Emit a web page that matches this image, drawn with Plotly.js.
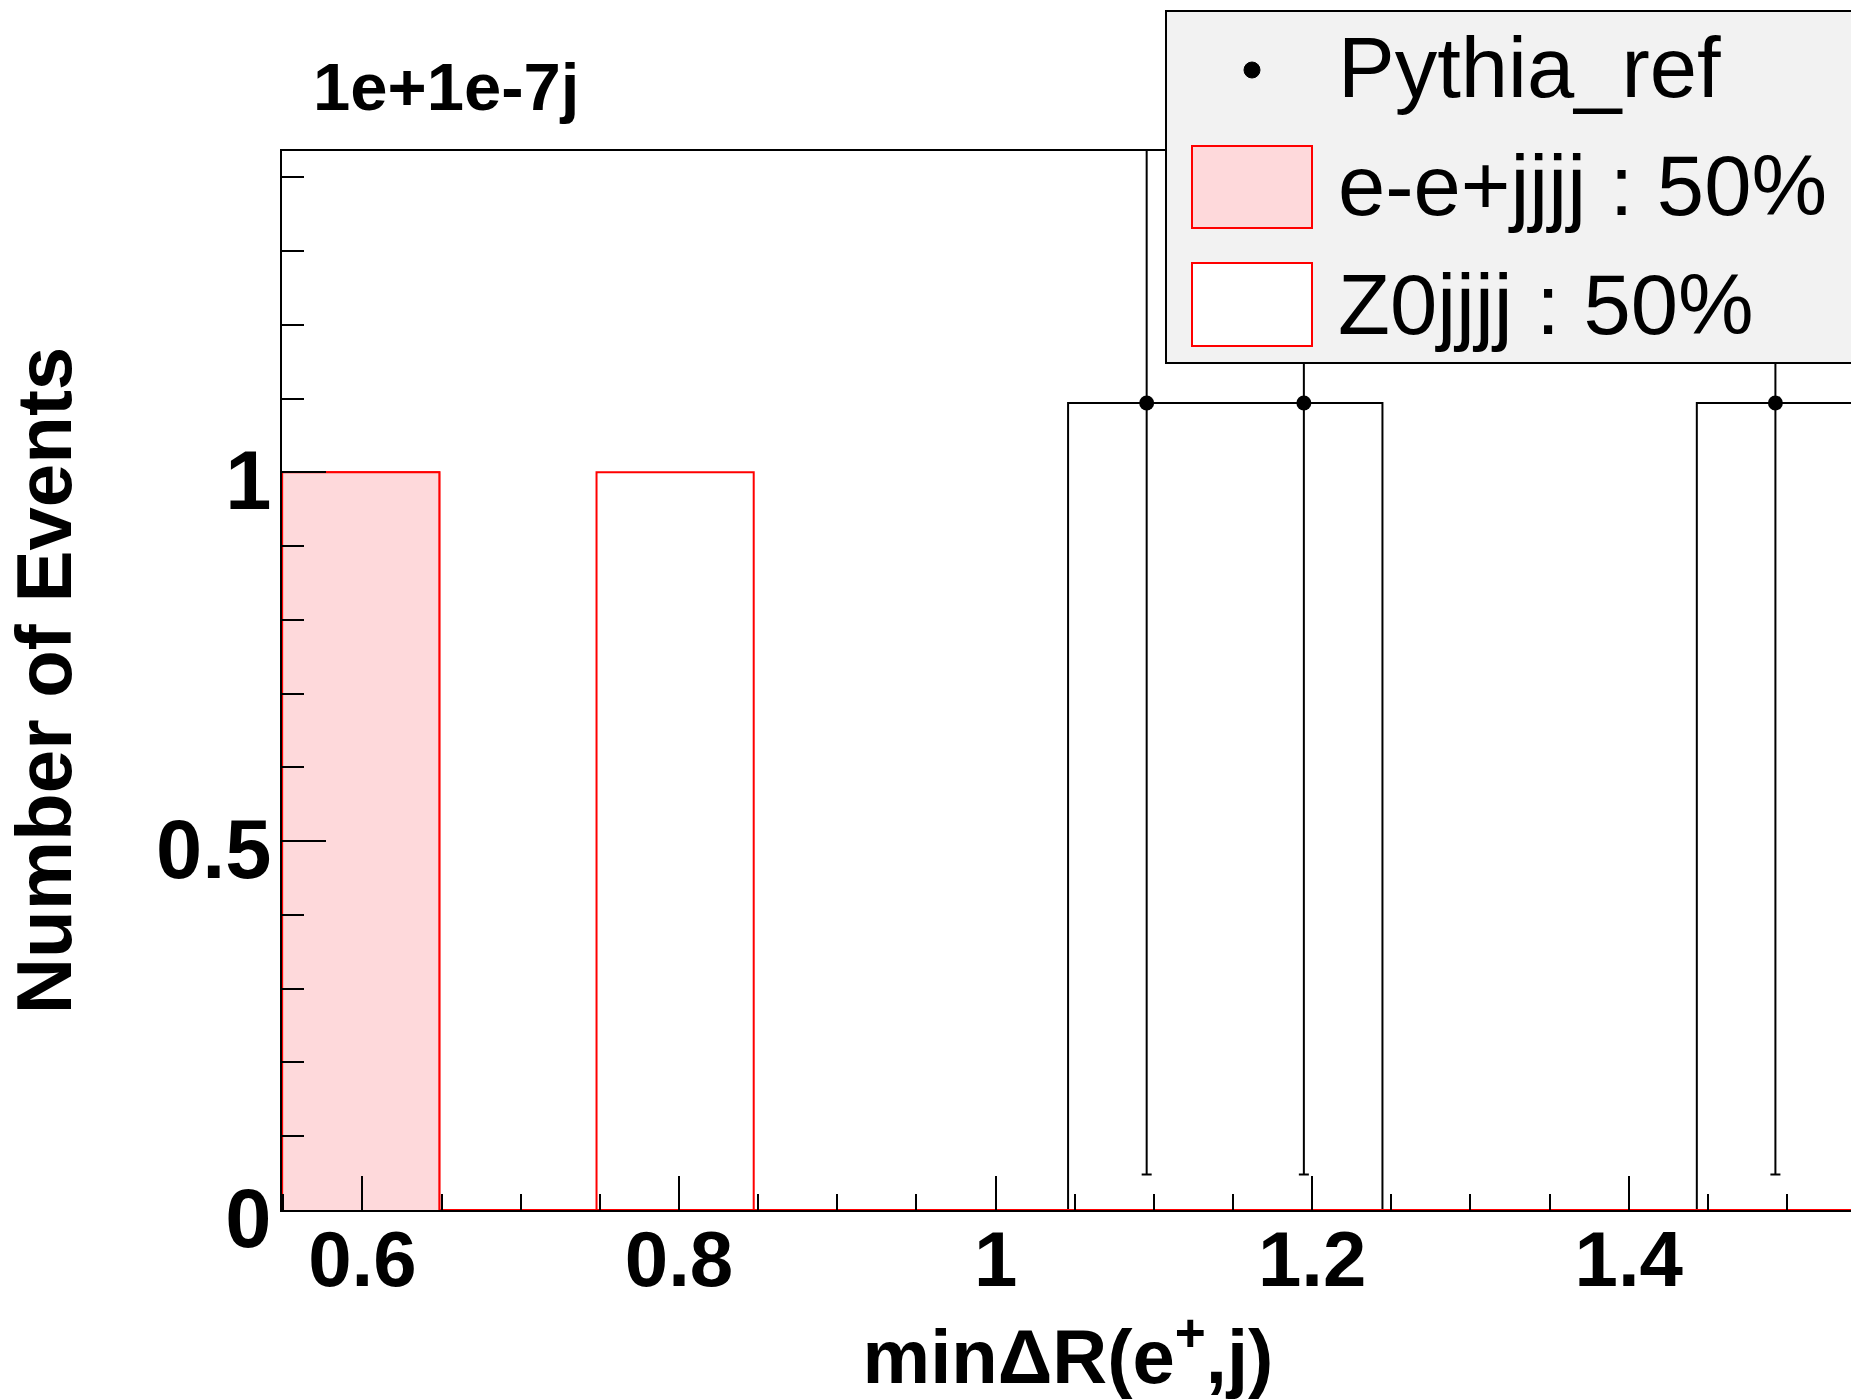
<!DOCTYPE html>
<html>
<head>
<meta charset="utf-8">
<script src="https://cdn.plot.ly/plotly-3.0.1.min.js"></script>
<style>
html, body { margin: 0; padding: 0; overflow: hidden; background: #ffffff; }
#chart { width: 1900px; height: 1400px; }
</style>
</head>
<body>
<div id="chart"></div>
<script>
// ---------------- data ----------------
const binEdges = [0.5493, 0.6486, 0.7479, 0.8472, 0.9465, 1.0458, 1.1451, 1.2444, 1.3437, 1.4430, 1.5423];
const eeValues = [1, 0, 0, 0, 0, 0, 0, 0, 0, 0];          // e-e+jjjj
const z0Values = [0, 0, 1, 0, 0, 0, 0, 0, 0, 0];          // Z0jjjj
const pythiaValues = [0, 0, 0, 0, 0, 1.094, 1.094, 0, 0, 1.094];
const pythiaErrors = [0, 0, 0, 0, 0, 1.046, 1.046, 0, 0, 1.046];
const seriesNames = ['Pythia_ref', 'e-e+jjjj : 50%', 'Z0jjjj : 50%'];
const xTitle = 'min\u0394R(e<sup>+</sup>,j)';
const yTitle = 'Number of Events';
const chartTitle = '1e+1e-7j';
const xRange = [0.5492, 1.5423];
const yRange = [0, 1.4355];

// ---------------- helpers ----------------
function stepPath(edges, vals) {
  const xs = [edges[0]], ys = [0];
  for (let i = 0; i < vals.length; i++) {
    xs.push(edges[i], edges[i + 1]);
    ys.push(vals[i], vals[i]);
  }
  xs.push(edges[edges.length - 1]);
  ys.push(0);
  return {x: xs, y: ys};
}
const centers = binEdges.slice(0, -1).map((e, i) => (e + binEdges[i + 1]) / 2);
const stackTop = eeValues.map((v, i) => v + z0Values[i]);

const pinkFill = '#fed9db';
const FONT = 'Liberation Sans, Arial, Helvetica, sans-serif';

const sTop = stepPath(binEdges, stackTop);
const sEE = stepPath(binEdges, eeValues);
const sPy = stepPath(binEdges, pythiaValues);

const ptX = [], ptY = [], ptE = [];
pythiaValues.forEach((v, i) => { if (v > 0) { ptX.push(centers[i]); ptY.push(v); ptE.push(pythiaErrors[i]); } });

const traces = [
  {x: sPy.x, y: sPy.y, type: 'scatter', mode: 'lines', name: seriesNames[0] + ' hist',
   line: {color: '#000000', width: 2}, hoverinfo: 'skip'},
  {x: sTop.x, y: sTop.y, type: 'scatter', mode: 'lines', name: seriesNames[2],
   line: {color: '#ff0000', width: 2}, fill: 'tozeroy', fillcolor: '#ffffff', hoverinfo: 'skip'},
  {x: sEE.x, y: sEE.y, type: 'scatter', mode: 'lines', name: seriesNames[1],
   line: {color: '#ff0000', width: 2}, fill: 'tozeroy', fillcolor: pinkFill, hoverinfo: 'skip'},
  {x: ptX, y: ptY, type: 'scatter', mode: 'markers', name: seriesNames[0],
   marker: {color: '#000000', size: 15},
   error_y: {type: 'data', array: ptE, symmetric: true, color: '#000000', thickness: 2, width: 5}}
];

// ---------------- layout ----------------
const W = 1900, H = 1400;
const mL = 282, mR = 46, mT = 151, mB = 190;
const pw = W - mL - mR, ph = H - mT - mB;
const px2x = p => (p - mL) / pw;
const py2y = p => (H - mB - p) / ph;

const legendShapes = [
  {type: 'rect', xref: 'paper', yref: 'paper', x0: px2x(1166), x1: px2x(1915), y0: py2y(363), y1: py2y(11),
   fillcolor: '#f2f2f2', line: {color: '#000000', width: 2}, layer: 'above'},
  {type: 'rect', xref: 'paper', yref: 'paper', x0: px2x(1192), x1: px2x(1312), y0: py2y(228), y1: py2y(146),
   fillcolor: pinkFill, line: {color: '#ff0000', width: 2}, layer: 'above'},
  {type: 'rect', xref: 'paper', yref: 'paper', x0: px2x(1192), x1: px2x(1312), y0: py2y(346), y1: py2y(263),
   fillcolor: '#ffffff', line: {color: '#ff0000', width: 2}, layer: 'above'},
  {type: 'circle', xref: 'paper', yref: 'paper', x0: px2x(1244), x1: px2x(1260), y0: py2y(78), y1: py2y(62),
   fillcolor: '#000000', line: {color: '#000000', width: 1}, layer: 'above'}
];
const legendRowsY = [68, 186, 304];
const legendAnnots = seriesNames.map((t, i) => ({
  text: t, xref: 'paper', yref: 'paper', x: px2x(1336), y: py2y(legendRowsY[i]),
  xanchor: 'left', yanchor: 'middle', showarrow: false,
  font: {family: FONT, size: 85, color: '#000000'}
}));

const layout = {
  width: W, height: H,
  margin: {l: mL, r: mR, t: mT, b: mB, pad: 0},
  paper_bgcolor: '#ffffff', plot_bgcolor: '#ffffff',
  showlegend: false,
  title: {text: chartTitle, xref: 'container', yref: 'container', x: 313 / W, xanchor: 'left',
          y: 1 - 87 / H, yanchor: 'middle',
          font: {family: FONT, size: 67, color: '#000000', weight: 'bold'}},
  xaxis: {
    range: xRange, showgrid: false, zeroline: false,
    showline: true, linecolor: '#000000', linewidth: 2, mirror: true,
    ticks: 'inside', ticklen: 34, tickwidth: 2, tickcolor: '#000000',
    tick0: 0, dtick: 0.2, ticklabelstandoff: -20,
    minor: {tick0: 0, dtick: 0.05, ticks: 'inside', ticklen: 16, tickwidth: 2, tickcolor: '#000000', showgrid: false},
    tickfont: {family: FONT, size: 78, color: '#000000', weight: 'bold'},
    title: {text: xTitle, standoff: 10, font: {family: FONT, size: 76, color: '#000000', weight: 'bold'}},
    automargin: false
  },
  yaxis: {
    range: yRange, showgrid: false, zeroline: false,
    showline: true, linecolor: '#000000', linewidth: 2, mirror: true,
    ticks: 'inside', ticklen: 44, tickwidth: 2, tickcolor: '#000000',
    tick0: 0, dtick: 0.5, ticklabelstandoff: -8, ticklabelshift: 8,
    minor: {tick0: 0, dtick: 0.1, ticks: 'inside', ticklen: 22, tickwidth: 2, tickcolor: '#000000', showgrid: false},
    tickfont: {family: FONT, size: 83, color: '#000000', weight: 'bold'},
    title: {text: yTitle, standoff: 65, font: {family: FONT, size: 78, color: '#000000', weight: 'bold'}},
    automargin: false
  },
  shapes: legendShapes,
  annotations: legendAnnots
};

Plotly.newPlot('chart', traces, layout, {displayModeBar: false, staticPlot: true});
</script>
</body>
</html>
